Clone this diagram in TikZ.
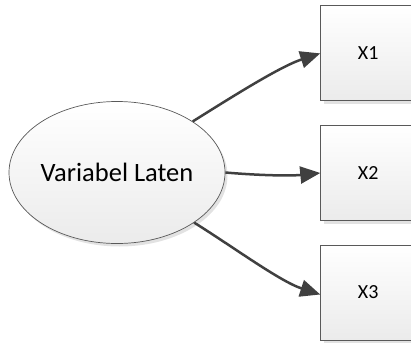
\documentclass[tikz,border=0pt]{standalone}
\usepackage{fontspec}
\setmainfont{Carlito}
\usetikzlibrary{shapes.geometric,arrows.meta}

\definecolor{edgegray}{HTML}{595959}
\definecolor{arrowgray}{HTML}{404040}
\definecolor{shadegray}{HTML}{E2E2E2}
\definecolor{fillbottom}{HTML}{EBEBEB}

\tikzset{
  latent/.style={ellipse, draw=edgegray, line width=0.7pt,
    top color=white, bottom color=fillbottom,
    minimum width=216pt, minimum height=142pt, inner sep=0pt,
    font=\fontsize{26.5}{30}\selectfont},
  indicator/.style={rectangle, draw=edgegray, line width=0.9pt,
    top color=white, bottom color=fillbottom,
    minimum width=95pt, minimum height=95pt, inner sep=0pt,
    font=\fontsize{20}{22}\selectfont},
  shade box/.style={fill=shadegray, draw=none},
  loading/.style={draw=arrowgray, line width=2.5pt,
    -{Triangle[length=20pt,width=17pt]}},
}

\begin{document}
\begin{tikzpicture}[x=1pt,y=-1pt]
  \useasboundingbox (0,0) rectangle (411,342);

  % soft drop shadows
  \fill[shade box] (119.5,175.5) ellipse [x radius=108, y radius=71];
  \foreach \cy in {53.4,173,292.5}
    \fill[shade box] (323.7,\cy-44) rectangle (418.7,\cy+51);

  % latent variable
  \node[latent] (lv) at (117,172.5) {Variabel Laten};

  % indicators
  \node[indicator] (x1) at (368.2,53.4) {X1};
  \node[indicator] (x2) at (368.2,173) {X2};
  \node[indicator] (x3) at (368.2,292.5) {X3};

  % loadings
  \draw[loading] (lv.34) .. controls +(40,-25) and +(-40,13) .. (x1.west);
  \draw[loading] (lv.east) .. controls +(35,3) and +(-30,3) .. (x2.west);
  \draw[loading] (lv.-33) .. controls +(40,25) and +(-40,-13) .. ([yshift=-2pt]x3.west);
\end{tikzpicture}
\end{document}
